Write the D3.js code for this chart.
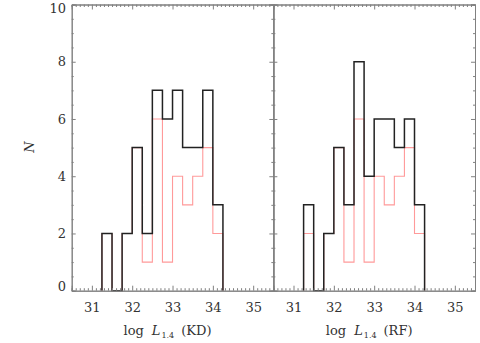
<!DOCTYPE html>
<html>
<head>
<meta charset="utf-8">
<script src="https://cdn.jsdelivr.net/npm/d3@7"></script>
<style>
  html, body { margin: 0; padding: 0; background: #fff; }
  svg { display: block; }
  svg text { font-family: "DejaVu Serif", "Liberation Serif", serif; }
</style>
</head>
<body>
<svg id="chart" width="480" height="343"></svg>
<script>
// bin edges of log L_1.4 histograms
const binEdges = [31.25, 31.5, 31.75, 32.0, 32.25, 32.5, 32.75, 33.0, 33.25, 33.5, 33.75, 34.0, 34.25];
// counts per bin, full sample
const countsKD = [2, 0, 2, 5, 2, 7, 6, 7, 5, 5, 7, 3];
const countsRF = [3, 0, 2, 5, 3, 8, 4, 6, 6, 5, 6, 3];
// counts per bin, sub-sample (red)
const subKD = [2, 0, 2, 5, 1, 6, 1, 4, 3, 4, 5, 2];
const subRF = [2, 0, 2, 5, 1, 6, 1, 4, 3, 4, 5, 2];

const xTicks = [31, 32, 33, 34, 35];
const yTicks = [0, 2, 4, 6, 8, 10];
const panels = [
  { tag: "KD", full: countsKD, sub: subKD },
  { tag: "RF", full: countsRF, sub: subRF }
];

const svg = d3.select("#chart");
const plotTop = 4.5, plotBottom = 290.7, plotLeft = 71.7, plotRight = 475;
const panelW = (plotRight - plotLeft) / 2;
const axisColor = "#808080";
const textColor = "#333";
const serif = "DejaVu Serif, Liberation Serif, serif";

const y = d3.scaleLinear().domain([0, 10]).range([plotBottom, plotTop]);

function stepPoints(vals) {
  const pts = [[binEdges[0], 0]];
  vals.forEach((v, i) => {
    pts.push([binEdges[i], v]);
    pts.push([binEdges[i + 1], v]);
  });
  pts.push([binEdges[binEdges.length - 1], 0]);
  return pts;
}

panels.forEach((p, i) => {
  const x0 = plotLeft + i * panelW;
  const x = d3.scaleLinear().domain([30.5, 35.5]).range([x0, x0 + panelW]);
  const g = svg.append("g");

  const line = d3.line().x(d => x(d[0])).y(d => y(d[1]));
  g.append("path").attr("d", line(stepPoints(p.sub)))
    .attr("fill", "none").attr("stroke", "#ff9a9a").attr("stroke-width", 1.1);
  g.append("path").attr("d", line(stepPoints(p.full)))
    .attr("fill", "none").attr("stroke", "#222").attr("stroke-width", 1.5);

  // bottom and top axes
  const minorX = d3.range(305, 356).filter(d => d % 10 !== 0).map(d => d / 10);
  g.append("g").attr("transform", `translate(0,${plotBottom})`)
    .call(d3.axisBottom(x).tickValues(xTicks).tickSize(-5).tickPadding(12).tickFormat(d3.format("d")));
  g.append("g").attr("transform", `translate(0,${plotBottom})`)
    .call(d3.axisBottom(x).tickValues(minorX).tickSize(-2.5).tickFormat(""));
  g.append("g").attr("transform", `translate(0,${plotTop})`)
    .call(d3.axisTop(x).tickValues(xTicks).tickSize(-5).tickFormat(""));
  g.append("g").attr("transform", `translate(0,${plotTop})`)
    .call(d3.axisTop(x).tickValues(minorX).tickSize(-2.5).tickFormat(""));

  // left and right axes
  const minorY = d3.range(1, 20, 1).filter(d => d % 4 !== 0).map(d => d / 2);
  g.append("g").attr("transform", `translate(${x0},0)`)
    .call(d3.axisLeft(y).tickValues(yTicks).tickSize(-4).tickFormat(""));
  g.append("g").attr("transform", `translate(${x0},0)`)
    .call(d3.axisLeft(y).tickValues(minorY).tickSize(-2).tickFormat(""));
  g.append("g").attr("transform", `translate(${x0 + panelW},0)`)
    .call(d3.axisRight(y).tickValues(yTicks).tickSize(-4).tickFormat(""));
  g.append("g").attr("transform", `translate(${x0 + panelW},0)`)
    .call(d3.axisRight(y).tickValues(minorY).tickSize(-2).tickFormat(""));

  g.selectAll(".domain").attr("stroke", axisColor);
  g.selectAll(".tick line").attr("stroke", axisColor);
  g.selectAll(".tick text").attr("fill", textColor).attr("font-size", 13)
    .attr("font-family", serif);

  // x title
  const t = g.append("text")
    .attr("x", x(33) - 5).attr("y", 335)
    .attr("text-anchor", "middle").attr("fill", textColor)
    .attr("font-size", 13).attr("font-family", serif);
  t.append("tspan").text("log");
  t.append("tspan").attr("dx", 8).attr("font-style", "italic").text("L");
  t.append("tspan").attr("font-size", 8).attr("dy", 3).attr("dx", 1).text("1.4");
  t.append("tspan").attr("dy", -3).attr("dx", 7).text(`(${p.tag})`);
});

// y tick labels
svg.append("g").selectAll("text").data(yTicks).join("text")
  .attr("x", 66)
  .attr("y", d => Math.min(Math.max(y(d), 8.5), 286.5))
  .attr("dy", "0.36em")
  .attr("text-anchor", "end")
  .attr("fill", textColor).attr("font-size", 13).attr("font-family", serif)
  .text(d => d);

// y title
svg.append("text")
  .attr("transform", "translate(34,147) rotate(-90)")
  .attr("text-anchor", "middle").attr("fill", textColor)
  .attr("font-size", 13).attr("font-style", "italic").attr("font-family", serif)
  .text("N");
</script>
</body>
</html>
